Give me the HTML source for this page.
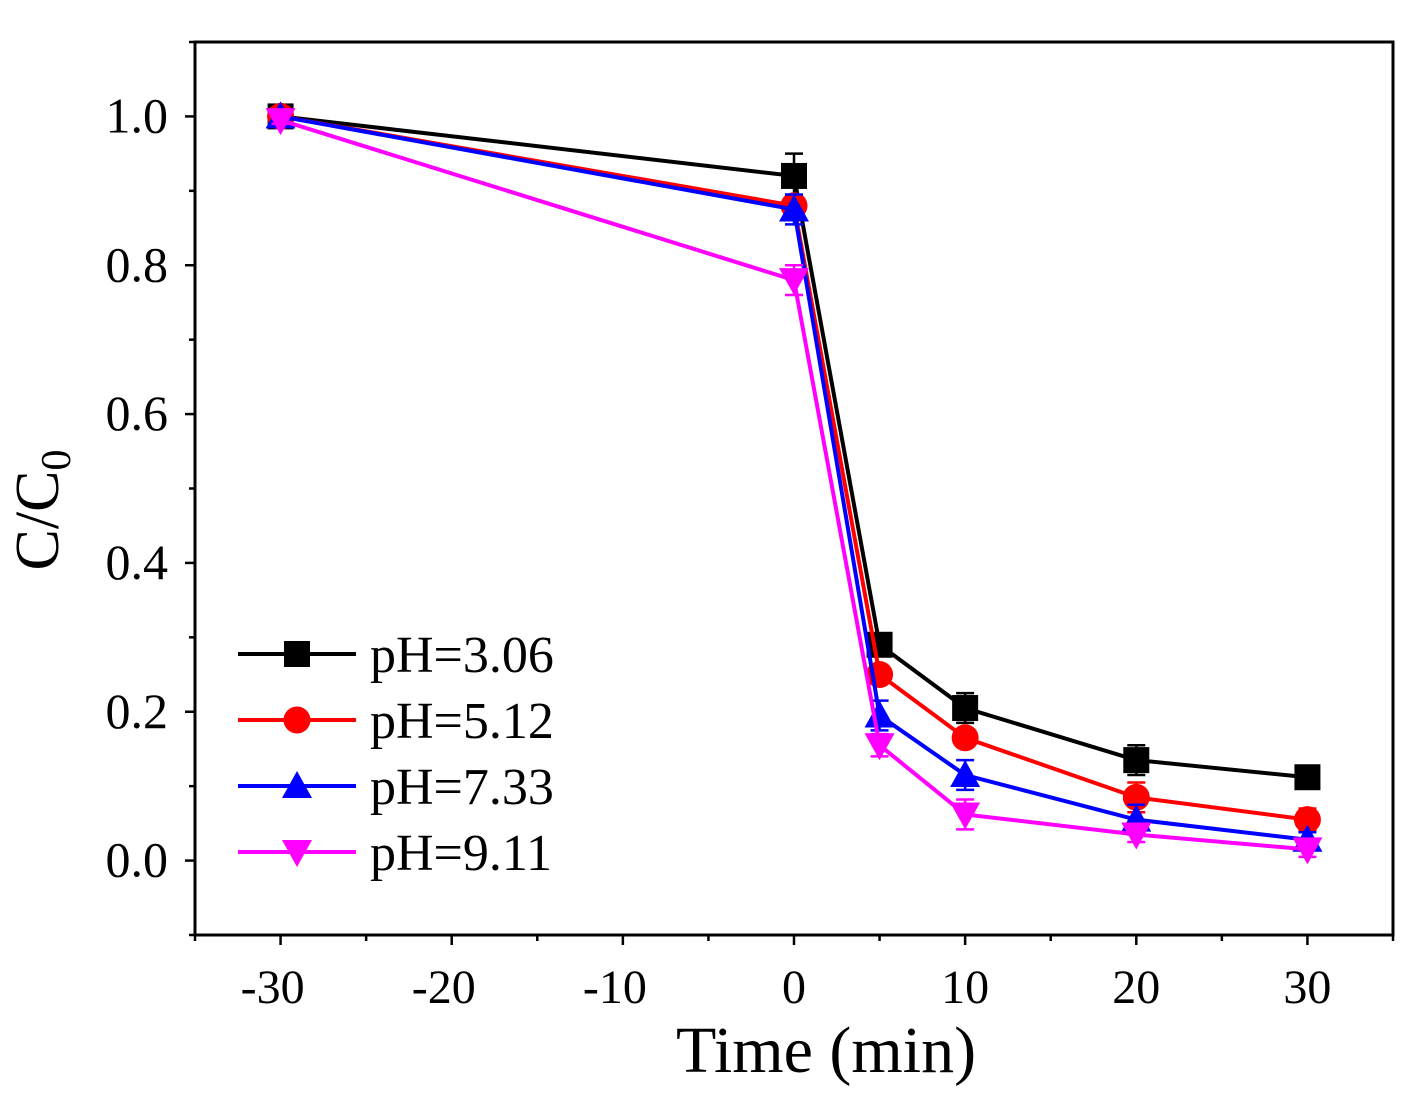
<!DOCTYPE html>
<html><head><meta charset="utf-8"><style>
html,body{margin:0;padding:0;background:#fff;}
svg{display:block;font-family:"Liberation Serif",serif;}
</style></head><body>
<svg id="chart" width="1425" height="1109" viewBox="0 0 1425 1109">
<g id="axes"></g>
<g id="series"></g>
<g id="legend"></g>
<text x="58" y="510" font-size="62" text-anchor="middle" transform="rotate(-90 58 510)">C/C<tspan font-size="42" dy="12">0</tspan></text>
<text x="826" y="1072" font-size="66" text-anchor="middle">Time (min)</text>
</svg>
<script>
const times = [-30, 0, 5, 10, 20, 30];
const labels = ["pH=3.06", "pH=5.12", "pH=7.33", "pH=9.11"];
const s1 = [1.0, 0.92, 0.29, 0.205, 0.135, 0.112];
const s2 = [1.0, 0.88, 0.25, 0.165, 0.085, 0.055];
const s3 = [1.0, 0.875, 0.195, 0.115, 0.055, 0.028];
const s4 = [0.995, 0.78, 0.155, 0.062, 0.035, 0.015];
const e1 = [0.005, 0.03, 0.01, 0.02, 0.02, 0.01];
const e2 = [0.005, 0.01, 0.01, 0.01, 0.02, 0.015];
const e3 = [0.005, 0.02, 0.02, 0.02, 0.02, 0.01];
const e4 = [0.005, 0.02, 0.015, 0.02, 0.01, 0.01];
const xTicks = [-30, -20, -10, 0, 10, 20, 30];
const yTicks = [0.0, 0.2, 0.4, 0.6, 0.8, 1.0];

const L = 195, R = 1393, T = 42, B = 935;
const xMin = -35, xMax = 35, yMin = -0.1, yMax = 1.1;
const X = v => L + (v - xMin) / (xMax - xMin) * (R - L);
const Y = v => B - (v - yMin) / (yMax - yMin) * (B - T);
const NS = "http://www.w3.org/2000/svg";
function mk(tag, attrs, parent) {
  const e = document.createElementNS(NS, tag);
  for (const k in attrs) e.setAttribute(k, attrs[k]);
  parent.appendChild(e);
  return e;
}
const axes = document.getElementById('axes');
const frame = mk('rect', {x: L, y: T, width: R - L, height: B - T, fill: 'none', stroke: '#000', 'stroke-width': 3}, axes);


for (let v = -35; v <= 35; v += 5) {
  const major = v % 10 === 0;
  const t = mk('line', {x1: X(v), x2: X(v), y1: B, y2: B + (major ? 10 : 6), stroke: '#000', 'stroke-width': 2.5}, axes);
  
  
}
xTicks.forEach(v => {
  const t = mk('text', {x: X(v) - (v < 0 ? 8 : 0), y: 1003, 'font-size': 48, 'text-anchor': 'middle'}, axes);
  t.textContent = String(v);
  
  
});
for (let v = -0.1; v <= 1.1001; v += 0.1) {
  const major = Math.abs(Math.round(v * 10) % 2) === 0;
  const t = mk('line', {x1: L, x2: L - (major ? 10 : 6), y1: Y(v), y2: Y(v), stroke: '#000', 'stroke-width': 2.5}, axes);
  
  
}
yTicks.forEach(v => {
  const t = mk('text', {x: 168, y: Y(v) + 16, 'font-size': 50, 'text-anchor': 'end'}, axes);
  t.textContent = v.toFixed(1);
  
  
});

const colors = ['#000000', '#ff0000', '#0000ff', '#ff00ff'];
const shapes = ['square', 'circle', 'up', 'down'];
const allS = [s1, s2, s3, s4];
const allE = [e1, e2, e3, e4];
function marker(shape, cx, cy, col, parent) {
  let m;
  if (shape === 'square') m = mk('rect', {x: cx - 13, y: cy - 13, width: 26, height: 26, fill: col}, parent);
  else if (shape === 'circle') m = mk('circle', {cx: cx, cy: cy, r: 13.5, fill: col}, parent);
  else if (shape === 'up') m = mk('polygon', {points: `${cx},${cy - 15} ${cx - 15},${cy + 12} ${cx + 15},${cy + 12}`, fill: col}, parent);
  else m = mk('polygon', {points: `${cx},${cy + 15} ${cx - 15},${cy - 12} ${cx + 15},${cy - 12}`, fill: col}, parent);
  return m;
}
const series = document.getElementById('series');
allS.forEach((s, i) => {
  const g = mk('g', {}, series);
  
  
  const line = mk('polyline', {points: s.map((v, j) => X(times[j]) + ',' + Y(v)).join(' '), fill: 'none', stroke: colors[i], 'stroke-width': 4}, g);
  
  
  s.forEach((v, j) => {
    const x = X(times[j]), e = allE[i][j];
    const eb = mk('path', {d: `M${x},${Y(v + e)}V${Y(v - e)}M${x - 9},${Y(v + e)}H${x + 9}M${x - 9},${Y(v - e)}H${x + 9}`, stroke: colors[i], 'stroke-width': 2.5, fill: 'none'}, g);
    
    
    const m = marker(shapes[i], x, Y(v), colors[i], g);
    
    
  });
});
const legend = document.getElementById('legend');
labels.forEach((lab, i) => {
  const y = 654 + i * 66;
  const g = mk('g', {}, legend);
  
  
  mk('line', {x1: 238, x2: 356, y1: y, y2: y, stroke: colors[i], 'stroke-width': 4}, g);
  marker(shapes[i], 297, y, colors[i], g);
  const t = mk('text', {x: 370, y: y + 18, 'font-size': 52}, g);
  t.textContent = lab;
});
</script>
</body></html>
